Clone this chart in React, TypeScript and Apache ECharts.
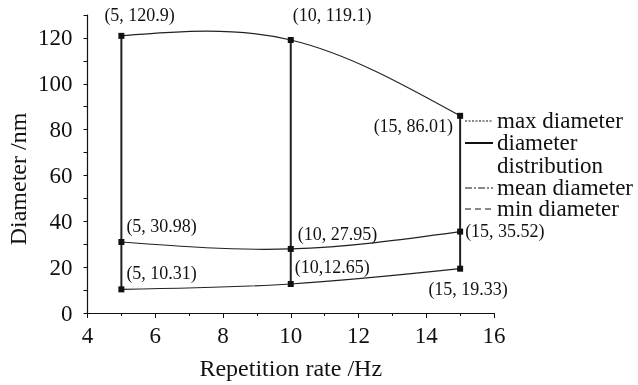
import React, { useEffect, useRef } from "react";
import * as echarts from "echarts";

const repetitionRates = [5, 10, 15];
const maxDiameter = [120.9, 119.1, 86.01];
const meanDiameter = [30.98, 27.95, 35.52];
const minDiameter = [10.31, 12.65, 19.33];
const maxLabels = ["(5, 120.9)", "(10, 119.1)", "(15, 86.01)"];
const meanLabels = ["(5, 30.98)", "(10, 27.95)", "(15, 35.52)"];
const minLabels = ["(5, 10.31)", "(10,12.65)", "(15, 19.33)"];
const xTicks = { min: 4, max: 16, interval: 2 };
const yTicks = { min: 0, max: 130, interval: 10, labelStep: 20 };
const legendItems = [
  { name: "max diameter", dash: [2, 1.5], width: 1 },
  { name: "diameter\ndistribution", dash: "solid", width: 2 },
  { name: "mean diameter", dash: [7, 2, 2, 2], width: 1 },
  { name: "min diameter", dash: [6, 4], width: 1 },
];

const FONT = "Liberation Serif";
const INK = "#111";

// label placement per point: [dx, dy, align]
const maxPos: [number, number, string][] = [[-14, -18, "left"], [5, -22, "left"], [-4, 13, "right"]];
const meanPos: [number, number, string][] = [[8, -13, "left"], [10, -12, "left"], [8, 2, "left"]];
const minPos: [number, number, string][] = [[8, -13, "left"], [7, -14, "left"], [11, 23, "center"]];

function markerData(vals: number[], labels: string[], pos: [number, number, string][]) {
  return vals.map((v, i) => ({
    value: [repetitionRates[i], v],
    label: {
      show: true,
      formatter: labels[i],
      position: [pos[i][0], pos[i][1]],
      align: pos[i][2],
      verticalAlign: "middle",
      fontFamily: FONT,
      fontSize: 18,
      color: INK,
      opacity: 1,
    },
  }));
}

// natural cubic spline (in pixel space) -> bezier segment i
function splineSegment(pts: number[][], i: number) {
  const n = pts.length;
  const xs = pts.map((p) => p[0]);
  const ys = pts.map((p) => p[1]);
  const h: number[] = [];
  for (let k = 0; k < n - 1; k++) h.push(xs[k + 1] - xs[k]);
  const M = new Array(n).fill(0);
  if (n > 2) {
    const a: number[] = [], b: number[] = [], c: number[] = [], d: number[] = [];
    for (let k = 1; k < n - 1; k++) {
      a.push(h[k - 1]);
      b.push(2 * (h[k - 1] + h[k]));
      c.push(h[k]);
      d.push(6 * ((ys[k + 1] - ys[k]) / h[k] - (ys[k] - ys[k - 1]) / h[k - 1]));
    }
    const m = b.length;
    for (let k = 1; k < m; k++) {
      const w = a[k] / b[k - 1];
      b[k] -= w * c[k - 1];
      d[k] -= w * d[k - 1];
    }
    const sol = new Array(m).fill(0);
    sol[m - 1] = d[m - 1] / b[m - 1];
    for (let k = m - 2; k >= 0; k--) sol[k] = (d[k] - c[k] * sol[k + 1]) / b[k];
    for (let k = 0; k < m; k++) M[k + 1] = sol[k];
  }
  const hi = h[i];
  const slope = (ys[i + 1] - ys[i]) / hi;
  const d0 = slope - (hi * (2 * M[i] + M[i + 1])) / 6;
  const d1 = slope + (hi * (M[i] + 2 * M[i + 1])) / 6;
  return {
    x1: xs[i],
    y1: ys[i],
    cpx1: xs[i] + hi / 3,
    cpy1: ys[i] + (hi / 3) * d0,
    cpx2: xs[i + 1] - hi / 3,
    cpy2: ys[i + 1] - (hi / 3) * d1,
    x2: xs[i + 1],
    y2: ys[i + 1],
  };
}

export default function App() {
  const ref = useRef<HTMLDivElement>(null);
  useEffect(() => {
    if (!ref.current) return;
    const chart = echarts.init(ref.current, null, { renderer: "svg" });
    const curveSeries = (name: string, vals: number[]) => ({
      name,
      type: "custom",
      coordinateSystem: "cartesian2d",
      data: vals.map((v, i) => [repetitionRates[i], v]),
      encode: { x: 0, y: 1 },
      silent: true,
      z: 2,
      renderItem: (params: any, api: any) => {
        const i = params.dataIndex;
        if (i >= vals.length - 1) return { type: "group", children: [] };
        const pts = vals.map((v, k) => api.coord([repetitionRates[k], v]));
        return {
          type: "bezierCurve",
          shape: splineSegment(pts, i),
          style: { stroke: "#222", fill: "none", lineWidth: 1.2 },
        };
      },
    });
    const markerSeries = (name: string, vals: number[], labels: string[], pos: any) => ({
      name,
      type: "scatter",
      data: markerData(vals, labels, pos),
      symbol: "rect",
      symbolSize: 6,
      itemStyle: { color: INK, opacity: 1 },
      z: 4,
    });
    const verticalSeries = repetitionRates.map((x, i) => ({
      type: "line",
      data: [
        [x, minDiameter[i]],
        [x, maxDiameter[i]],
      ],
      symbol: "none",
      lineStyle: { color: "#222", width: 2 },
      silent: true,
      z: 2,
    }));
    const legendGraphics: any[] = [];
    const legendYs = [121, 143, 188, 209];
    const legendLH = [21, 23, 21, 21];
    legendItems.forEach((it, i) => {
      const y = legendYs[i];
      const lh = legendLH[i];
      legendGraphics.push({
        type: "line",
        shape: { x1: 465, y1: y, x2: 493, y2: y },
        style: { stroke: INK, lineWidth: it.width, lineDash: it.dash },
      });
      legendGraphics.push({
        type: "text",
        x: 497,
        y: y - 1 - lh / 2,
        style: {
          text: it.name,
          fontFamily: FONT,
          fontSize: 23,
          fill: INK,
          verticalAlign: "top",
          lineHeight: lh,
        },
      });
    });
    legendGraphics.push({
      type: "text",
      x: 18,
      y: 179,
      rotation: Math.PI / 2,
      style: {
        text: "Diameter /nm",
        fontFamily: FONT,
        fontSize: 24,
        fill: INK,
        align: "center",
        verticalAlign: "middle",
      },
    });
    chart.setOption({
      animation: false,
      grid: { left: 87.5, right: 144, top: 15, bottom: 67 },
      xAxis: {
        type: "value",
        min: xTicks.min,
        max: xTicks.max,
        interval: xTicks.interval,
        name: "Repetition rate /Hz",
        nameLocation: "middle",
        nameGap: 43,
        nameTextStyle: { fontFamily: FONT, fontSize: 24, color: INK },
        axisLine: { lineStyle: { color: INK, width: 1.2 } },
        axisTick: { length: 5, lineStyle: { color: INK } },
        minorTick: { show: true, splitNumber: 2, length: 3, lineStyle: { color: INK } },
        axisLabel: { fontFamily: FONT, fontSize: 23, color: INK, margin: 11 },
        splitLine: { show: false },
      },
      yAxis: {
        type: "value",
        min: yTicks.min,
        max: yTicks.max,
        interval: yTicks.interval,
        axisLine: { show: true, lineStyle: { color: INK, width: 1.2 } },
        axisTick: { show: true, length: 4, lineStyle: { color: INK } },
        axisLabel: {
          fontFamily: FONT,
          fontSize: 23,
          color: INK,
          margin: 15,
          formatter: (v: number) => (v % yTicks.labelStep === 0 && v <= 120 ? String(v) : ""),
        },
        splitLine: { show: false },
      },
      series: [
        ...verticalSeries,
        curveSeries("max diameter curve", maxDiameter),
        curveSeries("mean diameter curve", meanDiameter),
        curveSeries("min diameter curve", minDiameter),
        markerSeries("max diameter", maxDiameter, maxLabels, maxPos),
        markerSeries("mean diameter", meanDiameter, meanLabels, meanPos),
        markerSeries("min diameter", minDiameter, minLabels, minPos),
      ],
      graphic: legendGraphics,
    });
    return () => chart.dispose();
  }, []);
  return (
    <div
      ref={ref}
      style={{ position: "fixed", left: 0, top: 0, width: 638, height: 385 }}
    />
  );
}
